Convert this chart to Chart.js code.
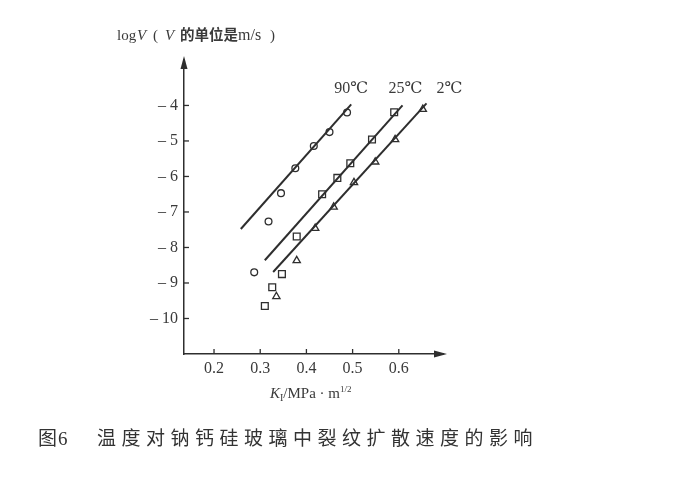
<!DOCTYPE html>
<html><head><meta charset="utf-8">
<script src="https://cdn.jsdelivr.net/npm/chart.js@4/dist/chart.umd.min.js"></script>
<style>html,body{margin:0;padding:0;background:#fff;}#c{display:block;}</style>
</head><body>
<canvas id="c" width="681" height="478"></canvas>
<script>
// ---- data ----
const seriesNames = ['90℃', '25℃', '2℃'];
const k90 = [0.287, 0.318, 0.345, 0.376, 0.416, 0.450, 0.488];
const v90 = [-8.70, -7.27, -6.47, -5.77, -5.14, -4.75, -4.20];
const k25 = [0.310, 0.326, 0.347, 0.379, 0.434, 0.467, 0.495, 0.542, 0.590];
const v25 = [-9.65, -9.12, -8.75, -7.69, -6.50, -6.04, -5.63, -4.96, -4.19];
const k2  = [0.335, 0.379, 0.419, 0.459, 0.503, 0.549, 0.592, 0.652];
const v2  = [-9.38, -8.37, -7.46, -6.86, -6.17, -5.59, -4.96, -4.11];
const fit90K = [0.258, 0.497], fit90V = [-7.48, -3.97];
const fit25K = [0.310, 0.608], fit25V = [-8.36, -4.00];
const fit2K  = [0.328, 0.660], fit2V  = [-8.69, -3.94];
const xTicks = [0.2, 0.3, 0.4, 0.5, 0.6];
const yTicks = [-10, -9, -8, -7, -6, -5, -4];
const caption = ['图6', '温度对钠钙硅玻璃中裂纹扩散速度的影响'];

const pts = (xs, ys) => xs.map((x, i) => ({x: x, y: ys[i]}));
const INK = '#2e2e2e';
const TXT = '#3a3a3a';
const SERIF = '"Liberation Serif", "DejaVu Serif", serif';
const CJK = '"Noto Sans CJK SC", sans-serif';

const markerDs = (data, style, r) => ({
  type: 'scatter', data: data, showLine: false,
  pointStyle: style, pointRadius: r, pointHoverRadius: r,
  borderColor: INK, backgroundColor: 'rgba(0,0,0,0)', pointBorderWidth: 1.3
});
const lineDs = (data) => ({
  type: 'line', data: data, showLine: true, pointRadius: 0,
  borderColor: INK, borderWidth: 2, fill: false, tension: 0
});

const decor = {
  id: 'decor',
  afterDraw(chart) {
    const ctx = chart.ctx, xs = chart.scales.x, ys = chart.scales.y, a = chart.chartArea;
    ctx.save();
    ctx.strokeStyle = INK; ctx.fillStyle = INK; ctx.lineWidth = 1.3;
    // inward tick marks
    yTicks.forEach(v => { const p = ys.getPixelForValue(v);
      ctx.beginPath(); ctx.moveTo(a.left, p); ctx.lineTo(a.left + 5, p); ctx.stroke(); });
    xTicks.forEach(v => { const p = xs.getPixelForValue(v);
      ctx.beginPath(); ctx.moveTo(p, a.bottom); ctx.lineTo(p, a.bottom - 5); ctx.stroke(); });
    // arrowheads
    ctx.beginPath(); ctx.moveTo(a.left, a.top - 4); ctx.lineTo(a.left - 3.5, a.top + 9); ctx.lineTo(a.left + 3.5, a.top + 9); ctx.closePath(); ctx.fill();
    ctx.beginPath(); ctx.moveTo(a.right + 4, a.bottom); ctx.lineTo(a.right - 9, a.bottom - 3.5); ctx.lineTo(a.right - 9, a.bottom + 3.5); ctx.closePath(); ctx.fill();

    // series labels near upper line ends
    ctx.fillStyle = TXT; ctx.textBaseline = 'alphabetic'; ctx.textAlign = 'center';
    ctx.font = '16px ' + SERIF;
    const ends = [[fit90K[1], 0], [fit25K[1], 3], [fit2K[1], 23]];
    ends.forEach((e, i) => { ctx.fillText(seriesNames[i], xs.getPixelForValue(e[0]) + e[1], 93); });

    // y axis title
    ctx.textAlign = 'left';
    const yb = 40;
    const put = (t, f, x) => { ctx.font = f; ctx.fillText(t, x, yb); };
    put('log', '15px ' + SERIF, 117);
    put('V', 'italic 15px ' + SERIF, 137);
    put('(', '15px ' + SERIF, 153);
    put('V', 'italic 15px ' + SERIF, 165);
    put('的单位是', 'bold 14.5px ' + CJK, 180);
    put('m/s', '16px ' + SERIF, 238);
    put(')', '15px ' + SERIF, 270);

    // x axis title
    let x = 270; const xb = 398;
    const seg2 = (t, f, dy) => { ctx.font = f; ctx.fillText(t, x, xb + dy); x += ctx.measureText(t).width; };
    seg2('K', 'italic 15px ' + SERIF, 0);
    seg2('I', '10px ' + SERIF, 3);
    seg2('/MPa · m', '15px ' + SERIF, 0);
    seg2('1/2', '9px ' + SERIF, -6);

    // caption
    ctx.font = '19px ' + CJK; ctx.fillStyle = '#333';
    ctx.fillText(caption[0][0], 38, 445);
    ctx.font = '19px ' + SERIF; ctx.fillText(caption[0].slice(1), 58, 445);
    ctx.font = '19px ' + CJK;
    Array.from(caption[1]).forEach((ch, i) => ctx.fillText(ch, 97 + i * 24.5, 445));
    ctx.restore();
  }
};

new Chart(document.getElementById('c'), {
  data: {
    datasets: [
      lineDs(pts(fit90K, fit90V)), lineDs(pts(fit25K, fit25V)), lineDs(pts(fit2K, fit2V)),
      markerDs(pts(k90, v90), 'circle', 3.4),
      markerDs(pts(k25, v25), 'rect', 4.8),
      markerDs(pts(k2, v2), 'triangle', 4.2)
    ]
  },
  options: {
    responsive: false, animation: false, devicePixelRatio: 1,
    layout: { padding: { left: 140, right: 238, top: 60, bottom: 84 } },
    plugins: { legend: { display: false }, tooltip: { enabled: false } },
    scales: {
      x: {
        type: 'linear', min: 0.135, max: 0.6957,
        afterBuildTicks: s => { s.ticks = xTicks.map(v => ({value: v})); },
        afterFit: s => { s.height = 40; },
        grid: { display: true, drawOnChartArea: false, drawTicks: false },
        border: { display: true, color: INK, width: 1.5 },
        ticks: { padding: 5, color: TXT, font: { family: SERIF, size: 16 }, callback: v => v.toFixed(1), maxRotation: 0 }
      },
      y: {
        type: 'linear', min: -11.0, max: -2.72,
        afterBuildTicks: s => { s.ticks = yTicks.map(v => ({value: v})); },
        afterFit: s => { s.width = 44; },
        grid: { display: true, drawOnChartArea: false, drawTicks: false },
        border: { display: true, color: INK, width: 1.5 },
        ticks: { padding: 6, color: TXT, font: { family: SERIF, size: 16 }, callback: v => '– ' + Math.abs(v) }
      }
    }
  },
  plugins: [decor]
});
</script>
</body></html>
